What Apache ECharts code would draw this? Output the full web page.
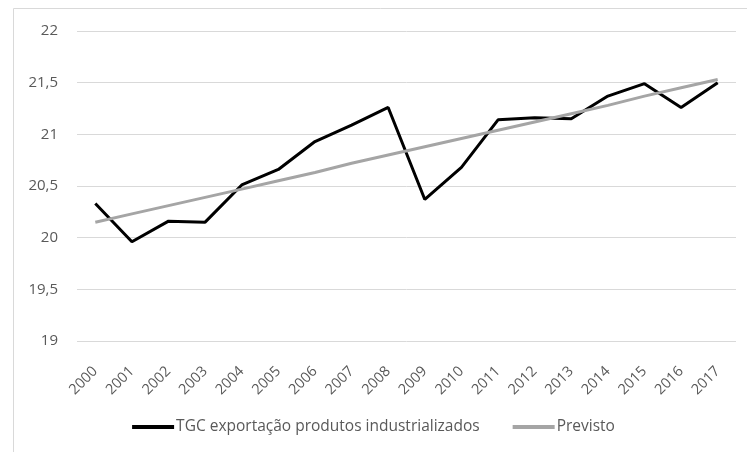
<!DOCTYPE html>
<html>
<head>
<meta charset="utf-8">
<script src="https://cdn.jsdelivr.net/npm/echarts@6/dist/echarts.min.js"></script>
<style>
  html, body { margin: 0; padding: 0; background: #fff; }
  #chart { width: 747px; height: 452px; }
</style>
</head>
<body>
<div id="chart"></div>
<script>
const years = ['2000', '2001', '2002', '2003', '2004', '2005', '2006', '2007', '2008',
  '2009', '2010', '2011', '2012', '2013', '2014', '2015', '2016', '2017'];
const tgcExport = [20.33, 19.96, 20.16, 20.15, 20.51, 20.66, 20.93, 21.09, 21.26,
  20.37, 20.68, 21.14, 21.16, 21.15, 21.37, 21.49, 21.26, 21.50];
const previsto = [20.15, 20.23, 20.31, 20.39, 20.47, 20.55, 20.63, 20.72, 20.80,
  20.88, 20.96, 21.04, 21.12, 21.20, 21.28, 21.37, 21.45, 21.53];

const font = '"Open Sans", sans-serif';
const textColor = '#595959';

const chart = echarts.init(document.getElementById('chart'));
chart.setOption({
  animation: false,
  graphic: [{
    type: 'rect',
    shape: { x: 13.5, y: 8.5, width: 800, height: 500 },
    style: { fill: 'none', stroke: '#d9d9d9', lineWidth: 1 },
    silent: true
  }],
  grid: { left: 77, right: 11, top: 31, bottom: 111 },
  legend: {
    bottom: 12,
    left: 'center',
    itemWidth: 42,
    itemHeight: 4,
    itemGap: 33,
    icon: 'rect',
    textStyle: { fontFamily: font, fontSize: 15.5, color: textColor, padding: [0, 0, 0, -3] },
    data: ['TGC exportação produtos industrializados', 'Previsto']
  },
  xAxis: {
    type: 'category',
    data: years,
    boundaryGap: true,
    axisLine: { show: false },
    axisTick: { show: false },
    axisLabel: { rotate: 45, margin: 28, fontFamily: font, fontSize: 14.5, color: textColor, interval: 0 }
  },
  yAxis: {
    type: 'value',
    min: 19,
    max: 22,
    interval: 0.5,
    axisLine: { show: false },
    axisTick: { show: false },
    axisLabel: {
      margin: 19,
      fontFamily: font, fontSize: 15, color: textColor,
      formatter: v => String(v).replace('.', ',')
    },
    splitLine: { lineStyle: { color: '#d9d9d9', width: 1 } }
  },
  series: [
    {
      name: 'TGC exportação produtos industrializados',
      type: 'line',
      data: tgcExport,
      symbol: 'none',
      lineStyle: { color: '#000', width: 3 },
      itemStyle: { color: '#000' }
    },
    {
      name: 'Previsto',
      type: 'line',
      data: previsto,
      symbol: 'none',
      lineStyle: { color: '#a5a5a5', width: 3 },
      itemStyle: { color: '#a5a5a5' }
    }
  ]
});
</script>
</body>
</html>
